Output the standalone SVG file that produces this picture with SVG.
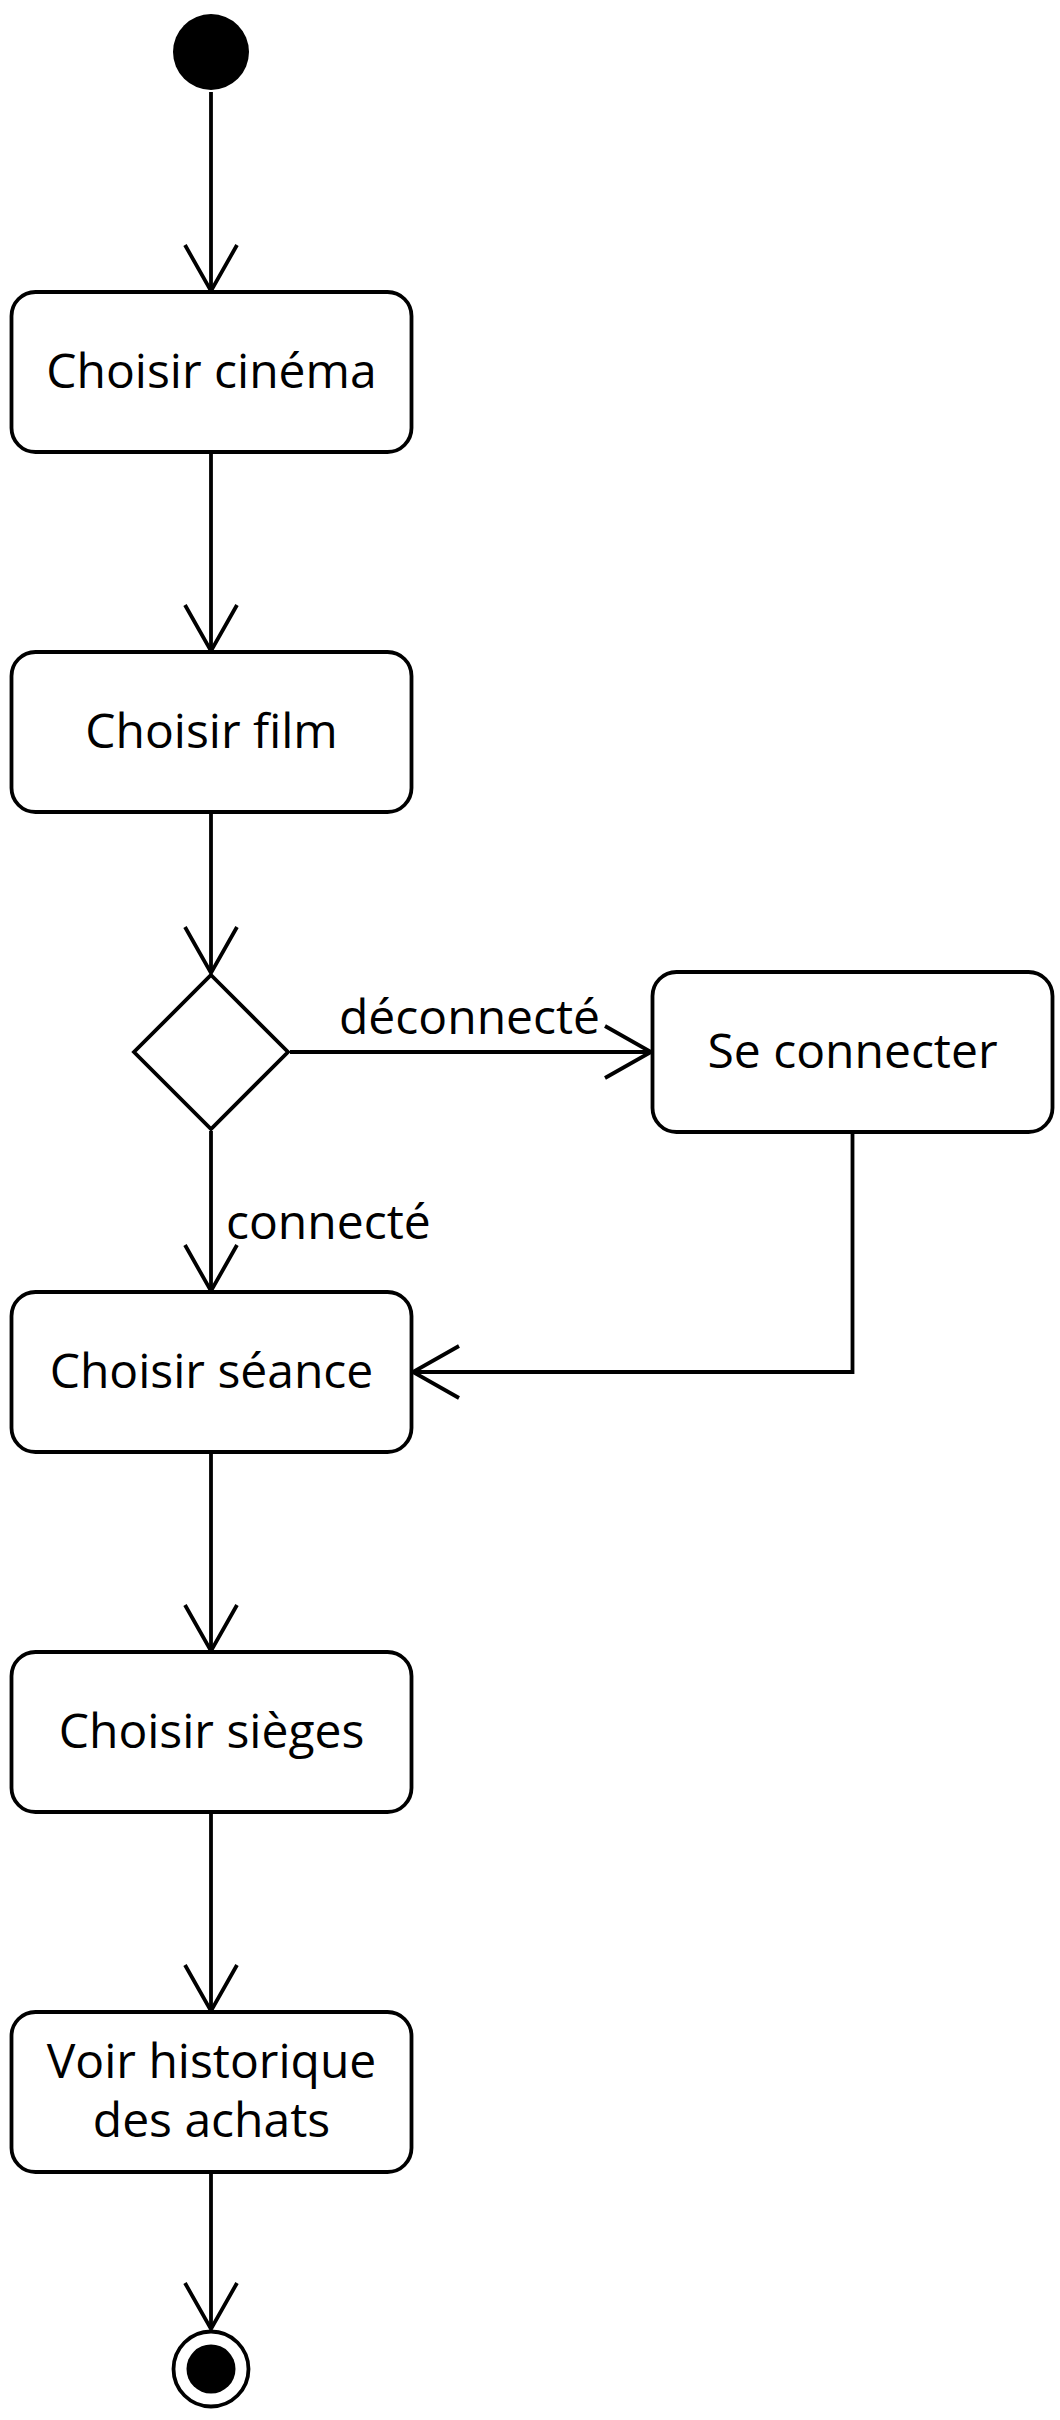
<svg xmlns="http://www.w3.org/2000/svg" width="1060" height="2420" viewBox="0 0 1060 2420">
<style>
.box{fill:#fff;stroke:#000;stroke-width:3.8}
.t{font-family:"Open Sans","Noto Sans","DejaVu Sans",sans-serif;font-size:48px;fill:#000;text-anchor:middle}
.lbl{font-family:"Open Sans","Noto Sans","DejaVu Sans",sans-serif;font-size:48px;fill:#000}
.edge{fill:none;stroke:#000;stroke-width:3.8}
</style>
<defs>
<marker id="arr" markerUnits="userSpaceOnUse" viewBox="-52 -32 58 64" markerWidth="58" markerHeight="64" refX="0" refY="0" orient="auto">
<path d="M-46,-26 L0,0 L-46,26" fill="none" stroke="#000" stroke-width="3.8"/>
</marker>
</defs>
<rect width="1060" height="2420" fill="#fff"/>
<g id="connectors">
<path class="edge" d="M211,92 L211,291" marker-end="url(#arr)"/>
<path class="edge" d="M211,452 L211,651" marker-end="url(#arr)"/>
<path class="edge" d="M211,812 L211,973" marker-end="url(#arr)"/>
<path class="edge" d="M290,1052 L651,1052" marker-end="url(#arr)"/>
<text class="lbl" x="339" y="1034">déconnecté</text>
<path class="edge" d="M211,1131 L211,1291" marker-end="url(#arr)"/>
<text class="lbl" x="226" y="1239">connecté</text>
<path class="edge" d="M852.5,1132 L852.5,1372 L413,1372" marker-end="url(#arr)"/>
<path class="edge" d="M211,1452 L211,1651" marker-end="url(#arr)"/>
<path class="edge" d="M211,1812 L211,2011" marker-end="url(#arr)"/>
<path class="edge" d="M211,2172 L211,2329" marker-end="url(#arr)"/>
</g>
<g id="start"><circle cx="211" cy="52" r="38" fill="#000"/></g>
<g id="n_cinema"><rect class="box" x="11.5" y="292" width="400" height="160" rx="24"/><text class="t" x="211.5" y="388">Choisir cinéma</text></g>
<g id="n_film"><rect class="box" x="11.5" y="652" width="400" height="160" rx="24"/><text class="t" x="211.5" y="748">Choisir film</text></g>
<g id="decision"><polygon class="box" points="211,975 288,1052 211,1129 134,1052"/></g>
<g id="n_connect"><rect class="box" x="652.5" y="972" width="400" height="160" rx="24"/><text class="t" x="852.5" y="1068">Se connecter</text></g>
<g id="n_seance"><rect class="box" x="11.5" y="1292" width="400" height="160" rx="24"/><text class="t" x="211.5" y="1388">Choisir séance</text></g>
<g id="n_sieges"><rect class="box" x="11.5" y="1652" width="400" height="160" rx="24"/><text class="t" x="211.5" y="1748">Choisir sièges</text></g>
<g id="n_historique"><rect class="box" x="11.5" y="2012" width="400" height="160" rx="24"/><text class="t" x="211.5" y="2078">Voir historique</text><text class="t" x="211.5" y="2137">des achats</text></g>
<g id="end"><circle cx="211" cy="2369" r="37.5" fill="#fff" stroke="#000" stroke-width="3.8"/><circle cx="211" cy="2369" r="24.5" fill="#000"/></g>
</svg>
